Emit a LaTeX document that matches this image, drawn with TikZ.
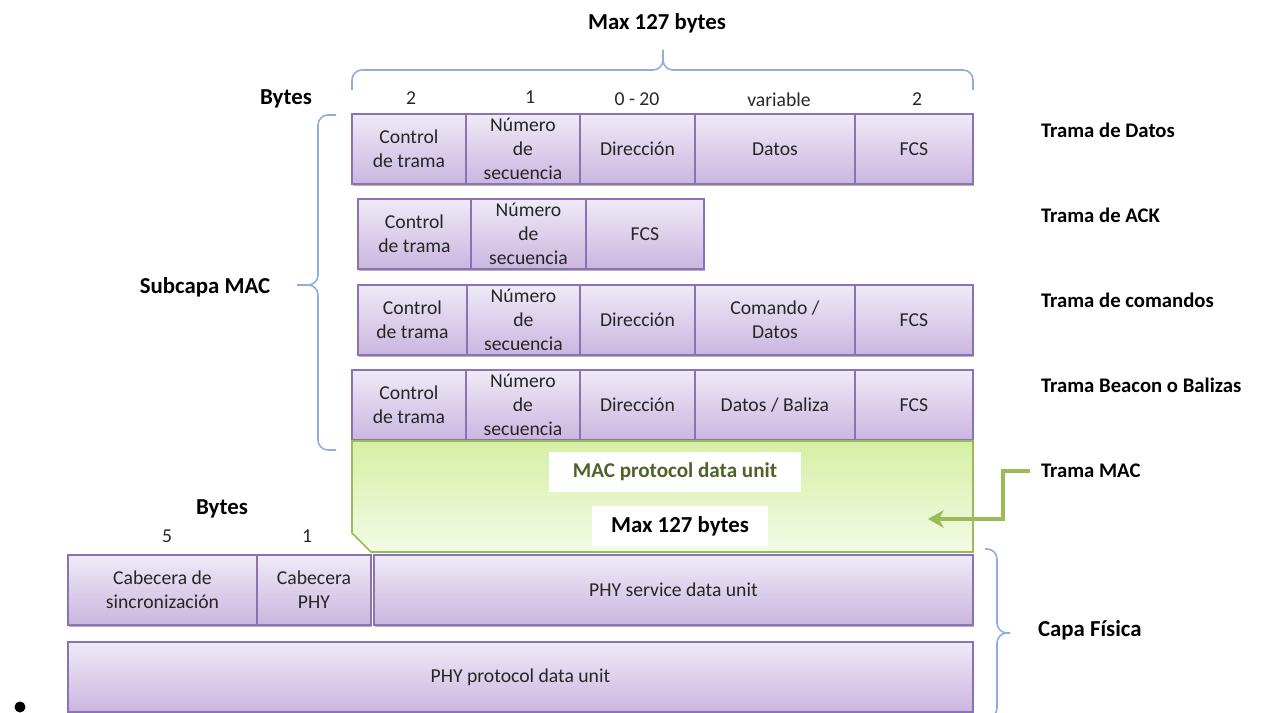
\documentclass[tikz,border=0pt]{standalone}
\usepackage{fontspec}
\setmainfont{Carlito}
\usetikzlibrary{positioning,shadows,arrows.meta}
\definecolor{lilaArriba}{HTML}{EFEAF7}
\definecolor{lilaAbajo}{HTML}{CAB6DF}
\definecolor{lilaBorde}{HTML}{8B72B2}
\definecolor{verdeArriba}{HTML}{D6EFA4}
\definecolor{verdeAbajo}{HTML}{F3FBE6}
\definecolor{verdeBorde}{HTML}{9BBB59}
\definecolor{verdeTexto}{HTML}{4F6228}
\definecolor{azulLlave}{HTML}{8FAEDA}
\definecolor{textoGris}{HTML}{262626}
\begin{document}
\begin{tikzpicture}[
x=0.02cm, y=-0.02cm,
every node/.style = {font=\fontsize{11.2}{13.6}\selectfont, text=textoGris, align=center, inner sep=0pt, outer sep=0pt},
celda/.style = {draw=lilaBorde, line width=0.9pt, top color=lilaArriba, bottom color=lilaAbajo, minimum height=1.4cm,
  drop shadow={shadow xshift=0.7pt, shadow yshift=-0.9pt, opacity=0.3, fill=black}},
titulo/.style = {font=\fontsize{11.8}{14}\selectfont\bfseries, text=black},
grande/.style = {font=\fontsize{13}{15}\selectfont\bfseries, text=black},
blanca/.style = {fill=white, minimum height=0.8cm},
llave/.style = {draw=azulLlave, line width=0.9pt, rounded corners=0.2cm},
]
\useasboundingbox (0,0) rectangle (1262,713);

% encabezado
\node[grande] (max) at (657,23) {Max 127 bytes};
\node[grande] (bytes) at (286,99) {Bytes};
\node (b1) at (411,98) {2};
\node (b2) at (530,97) {1};
\node (b3) at (637,99) {0 - 20};
\node (b4) at (779,100) {variable};
\node (b5) at (917,99) {2};
\coordinate (topA) at (352,90);
\coordinate (topB) at (973,90);
\coordinate (topC) at (663,50);
\draw[llave] (topA) -- (352,70) -- (663,70) -- (topC);
\draw[llave] (topB) -- (973,70) -- (663,70) -- (topC);

% trama de datos
\node[celda, minimum width=2.28cm, anchor=north west] (d1) at (352,114) {Control\\de trama};
\node[celda, minimum width=2.28cm, right=0pt of d1] (d2) {Número\\de\\secuencia};
\node[celda, minimum width=2.30cm, right=0pt of d2] (d3) {Dirección};
\node[celda, minimum width=3.20cm, right=0pt of d3] (d4) {Datos};
\node[celda, minimum width=2.36cm, right=0pt of d4] (d5) {FCS};

% trama de ACK
\node[celda, minimum width=2.26cm, anchor=north west] (a1) at (358,199) {Control\\de trama};
\node[celda, minimum width=2.30cm, right=0pt of a1] (a2) {Número\\de\\secuencia};
\node[celda, minimum width=2.36cm, right=0pt of a2] (a3) {FCS};

% trama de comandos
\node[celda, minimum width=2.18cm, anchor=north west] (c1) at (358,285) {Control\\de trama};
\node[celda, minimum width=2.26cm, right=0pt of c1] (c2) {Número\\de\\secuencia};
\node[celda, minimum width=2.30cm, right=0pt of c2] (c3) {Dirección};
\node[celda, minimum width=3.20cm, right=0pt of c3] (c4) {Comando /\\Datos};
\node[celda, minimum width=2.36cm, right=0pt of c4] (c5) {FCS};

% trama beacon
\node[celda, minimum width=2.28cm, anchor=north west] (e1) at (352,370) {Control\\de trama};
\node[celda, minimum width=2.28cm, right=0pt of e1] (e2) {Número\\de\\secuencia};
\node[celda, minimum width=2.30cm, right=0pt of e2] (e3) {Dirección};
\node[celda, minimum width=3.20cm, right=0pt of e3] (e4) {Datos / Baliza};
\node[celda, minimum width=2.36cm, right=0pt of e4] (e5) {FCS};

% MPDU
\draw[draw=verdeBorde, line width=0.9pt, top color=verdeArriba, bottom color=verdeAbajo]
  (352,441) -- (973,441) -- (973,552) -- (371,552) -- (352,533) -- cycle;
\node[blanca, minimum width=5.06cm, text=verdeTexto, font=\fontsize{12}{14}\selectfont\bfseries] (mpdu) at (675,472) {MAC protocol data unit};
\node[blanca, minimum width=3.52cm, grande] (max2) at (680,526) {Max 127 bytes};

% capa fisica
\node[grande] (bytes2) at (222,509) {Bytes};
\node (p5) at (167,536) {5};
\node (p1) at (307,536) {1};
\node[celda, minimum width=3.78cm, anchor=north west] (f1) at (68,555) {Cabecera de\\sincronización};
\node[celda, minimum width=2.28cm, right=0pt of f1] (f2) {Cabecera\\PHY};
\node[celda, minimum width=11.98cm, right=0.06cm of f2] (f3) {PHY service data unit};
\node[celda, minimum width=18.10cm, anchor=north west] (ppdu) at (68,642) {PHY protocol data unit};

% llaves laterales
\coordinate (macA) at (336,115);
\coordinate (macB) at (336,450);
\coordinate (macC) at (297,285);
\draw[llave] (macA) -- (318,115) -- (318,285) -- (macC);
\draw[llave] (macB) -- (318,450) -- (318,285) -- (macC);
\node[grande] (subcapa) at (205,287) {Subcapa MAC};
\coordinate (phyA) at (985,549);
\coordinate (phyB) at (985,718);
\coordinate (phyC) at (1010,633);
\draw[llave] (phyA) -- (997,549) -- (997,633) -- (phyC);
\draw[llave] (phyB) -- (997,718) -- (997,633) -- (phyC);
\node[grande, anchor=west] (capa) at (1038,630) {Capa Física};

% nombres de tramas
\node[titulo, anchor=west] (tDatos) at (1041,130) {Trama de Datos};
\node[titulo, anchor=west] (tAck) at (1041,215) {Trama de ACK};
\node[titulo, anchor=west] (tCom) at (1041,300) {Trama de comandos};
\node[titulo, anchor=west] (tBea) at (1041,385) {Trama Beacon o Balizas};
\node[titulo, anchor=west] (tMac) at (1041,471) {Trama MAC};

% flecha verde
\coordinate (inicio) at (1030,471);
\coordinate (codo) at (1003,519);
\coordinate (punta) at (928,519);
\draw[verdeBorde, line width=2.4pt, -{Stealth[length=9pt, width=10pt]}] (inicio) -| (codo) -- (punta);

\node[circle, fill=black, minimum size=0.22cm] (punto) at (20,707) {};
\end{tikzpicture}
\end{document}
